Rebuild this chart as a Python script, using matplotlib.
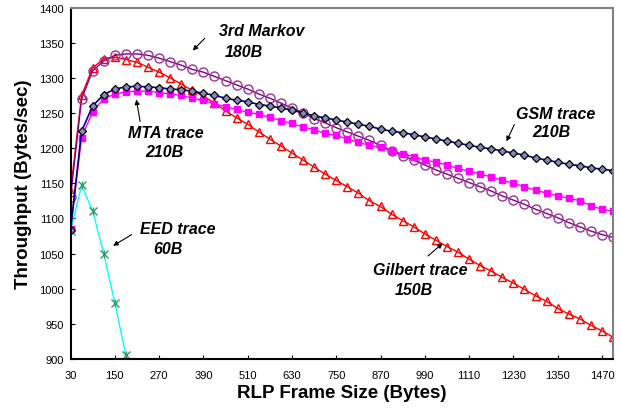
import matplotlib.pyplot as plt
import numpy as np

# frame sizes (bytes)
frame = np.arange(30, 1501, 30)

gsm = [1083, 1224, 1260, 1276, 1284, 1287, 1288, 1287, 1286, 1284,
       1283, 1281, 1278, 1275, 1271, 1268, 1266, 1262, 1260, 1257,
       1254, 1250, 1246, 1243, 1240, 1237, 1234, 1231, 1227, 1224,
       1222, 1219, 1216, 1213, 1210, 1207, 1204, 1201, 1199, 1196,
       1193, 1190, 1186, 1183, 1180, 1177, 1175, 1172, 1170, 1168]

mta = [1085, 1215, 1252, 1270, 1277, 1280, 1281, 1281, 1279, 1277,
       1275, 1271, 1268, 1263, 1259, 1255, 1251, 1248, 1244, 1239,
       1235, 1230, 1226, 1221, 1218, 1213, 1208, 1204, 1201, 1196,
       1192, 1188, 1183, 1180, 1176, 1171, 1167, 1163, 1159, 1154,
       1150, 1145, 1140, 1136, 1132, 1129, 1125, 1118, 1113, 1110]

markov = [1130, 1270, 1310, 1324, 1332, 1334, 1334, 1332, 1328, 1323,
          1318, 1312, 1308, 1302, 1296, 1290, 1284, 1277, 1271, 1264,
          1257, 1250, 1242, 1236, 1229, 1223, 1217, 1211, 1204, 1196,
          1189, 1183, 1176, 1169, 1163, 1157, 1151, 1145, 1139, 1132,
          1126, 1120, 1113, 1107, 1101, 1094, 1088, 1082, 1077, 1073]

gilbert = [1138, 1275, 1314, 1327, 1329, 1326, 1322, 1315, 1308, 1300,
           1291, 1282, 1274, 1264, 1253, 1243, 1234, 1223, 1213, 1203,
           1193, 1183, 1173, 1163, 1154, 1145, 1136, 1125, 1117, 1106,
           1097, 1088, 1078, 1069, 1060, 1052, 1042, 1033, 1025, 1016,
           1008, 999, 990, 982, 972, 964, 957, 948, 940, 931]

eed_frame = [30, 60, 90, 120, 150, 180, 210]
eed = [1082, 1147, 1111, 1050, 980, 905, 834]

plt.rcParams['font.family'] = ['Liberation Sans', 'DejaVu Sans']

fig = plt.figure(figsize=(6.21, 4.14), dpi=100)
ax = fig.add_axes([70.5 / 621, 1 - 360 / 414, (613 - 70.5) / 621, (360 - 8.5) / 414])

ax.plot(eed_frame, eed, color='#00FFFF', lw=1, marker='x', ms=6, mec='#339966', mew=1)
ax.plot(eed_frame, eed, color='none', marker='|', ms=6, mec='#339966', mew=1)
ax.plot(frame, gilbert, color='#FF0000', lw=1, marker='^', ms=6, mfc='none', mec='#FF0000', mew=1)
ax.plot(frame, markov, color='#800080', lw=1, marker='o', ms=6.5, mfc='none', mec='#993399', mew=1)
ax.plot(frame, mta, color='#FF00FF', lw=1, marker='s', ms=5, mfc='#FF00FF', mec='#FF00FF')
ax.plot(frame, gsm, color='#000080', lw=1.2, marker='D', ms=4, mfc='#8888BB', mec='black', mew=0.9)

ax.set_xlim(30, 1500)
ax.set_ylim(900, 1400)
ax.set_xticks(np.arange(30, 1471, 120))
ax.set_yticks(np.arange(900, 1401, 50))
ax.tick_params(direction='in', length=3, labelsize=8, pad=5)
ax.tick_params(axis='x', pad=8)

for side in ['left', 'bottom']:
    ax.spines[side].set_linewidth(1.5)
for side in ['top', 'right']:
    ax.spines[side].set_color('#808080')
    ax.spines[side].set_linewidth(1.5)

ax.set_xlabel('RLP Frame Size (Bytes)', fontsize=13.5, fontweight='bold', labelpad=3)
ax.set_ylabel('Throughput (Bytes/sec)', fontsize=13.5, fontweight='bold', labelpad=5)

txt = dict(fontsize=11.5, fontweight='bold', fontstyle='italic', ha='center', va='center')
arrow = dict(arrowstyle='-|>', color='black', lw=0.8, mutation_scale=7)

def label(line1, line2, p1, p2, start, head):
    ax.text(p1[0], p1[1], line1, **txt)
    ax.text(p2[0], p2[1], line2, **txt)
    ax.annotate('', xy=head, xytext=start, arrowprops=arrow)

label('3rd Markov', '180B', (548, 1367), (500, 1337), (399, 1359), (356, 1336))
label('MTA trace', '210B', (288, 1222), (283, 1195), (220, 1234), (207, 1273))
label('GSM trace', '210B', (1345, 1249), (1334, 1224), (1236, 1237), (1208, 1206))
label('Gilbert trace', '150B', (977, 1027), (960, 999), (993, 1044), (1044, 1067))
label('EED trace', '60B', (321, 1085), (293, 1057), (202, 1079), (139, 1059))

plt.savefig('out.png', dpi=100)
